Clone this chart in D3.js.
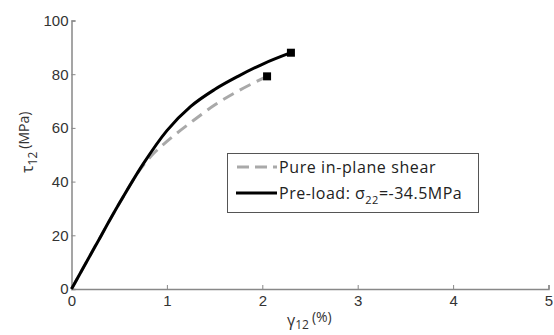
<!DOCTYPE html>
<html><head><meta charset="utf-8">
<script src="https://cdn.jsdelivr.net/npm/d3@7"></script>
<style>body{margin:0;background:#fff}svg{display:block;font-family:"Open Sans","Noto Sans",sans-serif}</style>
</head><body>
<script>
const xTicks = [0,1,2,3,4,5];
const yTicks = [0,20,40,60,80,100];
const preloadX = [0,0.25,0.5,0.75,1.0,1.25,1.5,1.75,2.0,2.3];
const preloadY = [0,16,31.8,46.5,59,68,74.3,79.3,83.7,88];
const pureX = [0,0.25,0.5,0.75,0.875,1.0,1.25,1.5,1.75,2.05];
const pureY = [0,16,31.8,46,51,55,62,68.5,73.8,79.2];
const legendLabels = ["Pure in-plane shear","Pre-load: "];

const W=554,H=335;
const svg=d3.select("body").append("svg").attr("width",W).attr("height",H);
const x=d3.scaleLinear().domain([0,5]).range([71.5,548.5]);
const y=d3.scaleLinear().domain([0,100]).range([289,20.5]);
const axisCol="#888", textCol="#333";

const gx=svg.append("g").attr("transform",`translate(0,${y(0)})`)
  .call(d3.axisBottom(x).tickValues(xTicks).tickSize(-4).tickPadding(4).tickFormat(d3.format("d")));
const gy=svg.append("g").attr("transform",`translate(${x(0)},0)`)
  .call(d3.axisLeft(y).tickValues(yTicks).tickSize(-4).tickPadding(3).tickFormat(d3.format("d")));
[gx,gy].forEach(g=>{
  g.select(".domain").attr("stroke",axisCol).attr("stroke-width",1.5);
  g.selectAll(".tick line").attr("stroke",axisCol).attr("stroke-width",1);
  g.selectAll(".tick text").attr("fill",textCol).style("font-size","15px").style("font-family","inherit");
});
gx.selectAll(".tick text").attr("dy","0.85em");

const line=d3.line().x(d=>x(d[0])).y(d=>y(d[1])).curve(d3.curveMonotoneX);
const pure=pureX.map((v,i)=>[v,pureY[i]]);
const pre=preloadX.map((v,i)=>[v,preloadY[i]]);
svg.append("path").attr("d",line(pure)).attr("fill","none").attr("stroke","#a9a9a9").attr("stroke-width",3).attr("stroke-dasharray","12,7");
svg.append("path").attr("d",line(pre)).attr("fill","none").attr("stroke","#000").attr("stroke-width",3);
[pure[pure.length-1],pre[pre.length-1]].forEach(p=>{
  svg.append("rect").attr("x",x(p[0])-4).attr("y",y(p[1])-4).attr("width",8).attr("height",8).attr("fill","#000");
});

// legend
const lg=svg.append("g");
lg.append("rect").attr("x",227.5).attr("y",153.5).attr("width",251).attr("height",59).attr("fill","#fff").attr("stroke","#555").attr("stroke-width",1);
lg.append("line").attr("x1",237).attr("x2",277).attr("y1",167).attr("y2",167).attr("stroke","#a9a9a9").attr("stroke-width",3).attr("stroke-dasharray","12,6");
lg.append("line").attr("x1",236).attr("x2",277).attr("y1",193).attr("y2",193).attr("stroke","#000").attr("stroke-width",3);
lg.append("text").attr("x",279).attr("y",173).attr("fill","#222").style("font-size","16px").style("letter-spacing","0.6px").text(legendLabels[0]);
const t2=lg.append("text").attr("x",279).attr("y",199).attr("fill","#222").style("font-size","16px").style("letter-spacing","0.5px");
t2.append("tspan").text(legendLabels[1]);
t2.append("tspan").text("σ");
t2.append("tspan").attr("dy",5).style("font-size","11px").text("22");
t2.append("tspan").attr("dy",-5).text("=-34.5MPa");

// axis labels
const xl=svg.append("text").attr("x",287).attr("y",326).attr("fill",textCol).style("font-size","16px");
xl.append("tspan").text("γ");
xl.append("tspan").attr("dy",3).style("font-size","12px").text("12");
xl.append("tspan").attr("dy",-7).attr("dx",3).style("font-size","14px").text("(%)");

const yl=svg.append("text").attr("transform","translate(33,173) rotate(-90)").attr("text-anchor","start").attr("fill",textCol).style("font-size","16px");
yl.append("tspan").text("τ");
yl.append("tspan").attr("dy",4).style("font-size","12px").text("12");
yl.append("tspan").attr("dy",-8).attr("dx",3).style("font-size","14px").text("(MPa)");
</script>
</body></html>
